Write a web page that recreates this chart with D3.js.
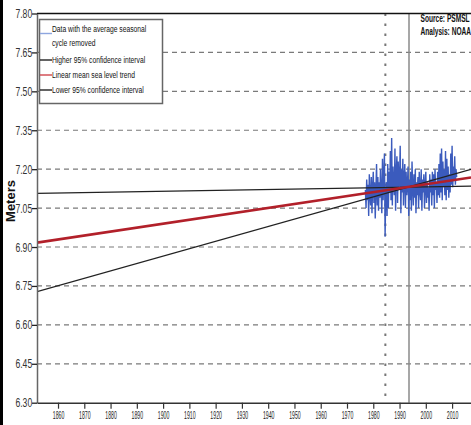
<!DOCTYPE html>
<html><head><meta charset="utf-8">
<script src="https://cdn.jsdelivr.net/npm/d3@7"></script>
<style>body{margin:0;background:#fff;}svg{display:block;}</style>
</head><body>
<svg id="c" width="471" height="425"></svg>
<script>
// ---- data ----
const yTicks = [6.30, 6.45, 6.60, 6.75, 6.90, 7.05, 7.20, 7.35, 7.50, 7.65, 7.80];
const xTicks = [1860, 1870, 1880, 1890, 1900, 1910, 1920, 1930, 1940, 1950, 1960, 1970, 1980, 1990, 2000, 2010];
const dataStartYear = 1977;
const samplesPerYear = 4;
const seaLevel = [
  7.12, 7.05, 7.16, 7.08,
  7.14, 7.02, 7.18, 7.10,
  7.06, 7.17, 7.03, 7.13,
  7.19, 7.07, 7.15, 7.01,
  7.12, 7.22, 7.06, 7.17,
  7.04, 7.15, 7.09, 7.20,
  7.11, 7.03, 7.24, 7.08,
  7.18, 7.26, 6.94, 7.10,
  7.15, 7.02, 7.22, 7.05,
  7.19, 7.11, 7.27, 7.08,
  7.32, 7.06, 7.21, 7.14,
  7.10, 7.28, 7.04, 7.19,
  7.25, 7.07, 7.23, 7.12,
  7.16, 7.29, 7.03, 7.20,
  7.11, 7.24, 7.06, 7.17,
  7.22, 7.05, 7.19, 7.10,
  7.14, 7.21, 7.02, 7.16,
  7.08, 7.19, 7.04, 7.23,
  7.13, 7.06, 7.18, 7.09,
  7.20, 7.03, 7.15, 7.10,
  7.17, 7.05, 7.19, 7.12,
  7.08, 7.20, 7.04, 7.16,
  7.11, 7.18, 7.05, 7.14,
  7.19, 7.07, 7.15, 7.09,
  7.13, 7.04, 7.18, 7.11,
  7.16, 7.06, 7.19, 7.10,
  7.18, 7.05, 7.20, 7.12,
  7.15, 7.07, 7.19, 7.10,
  7.22, 7.09, 7.26, 7.11,
  7.28, 7.08, 7.23, 7.13,
  7.20, 7.10, 7.27, 7.08,
  7.24, 7.12, 7.21, 7.09,
  7.18, 7.11, 7.26, 7.14,
  7.29, 7.13, 7.21, 7.16,
  7.25, 7.14, 7.20, 7.17
];
const lineYears = [1852, 2017.2];
const trendLinear = [6.917, 7.168];
const ciHigher = [7.107, 7.135];
const ciLower = [6.728, 7.199];
const dottedMarkerYear = 1984.6;
const solidMarkerYear = 1993.6;
const legendLabels = [
  ["Data with the average seasonal", "cycle removed"],
  ["Higher 95% confidence interval"],
  ["Linear mean sea level trend"],
  ["Lower 95% confidence interval"]
];
const sourceLines = ["Source: PSMSL", "Analysis: NOAA"];

// ---- drawing ----
const svg = d3.select("#c");
const font = "'Liberation Sans', Arial, sans-serif";
const L = 37, R = 471, T = 13.5, B = 402.7;
const x = d3.scaleLinear().domain([1852, 2017.2]).range([L, R]);
const y = d3.scaleLinear().domain([6.30, 7.80]).range([B, T]);

svg.append("rect").attr("x", 0).attr("y", 0).attr("width", 471).attr("height", 425).attr("fill", "#fff");
svg.append("rect").attr("x", 0).attr("y", 0).attr("width", 3).attr("height", 425).attr("fill", "#000");

// grid
svg.append("g").selectAll("line").data(yTicks.filter(d => d > 6.31 && d < 7.79)).join("line")
  .attr("x1", L).attr("x2", R).attr("y1", d => y(d)).attr("y2", d => y(d))
  .attr("stroke", "#7a7a7a").attr("stroke-width", 1.2).attr("stroke-dasharray", "5,4");

// markers
svg.append("line").attr("x1", x(dottedMarkerYear)).attr("x2", x(dottedMarkerYear)).attr("y1", T).attr("y2", B)
  .attr("stroke", "#777").attr("stroke-width", 2).attr("stroke-dasharray", "2.5,7.5");
svg.append("line").attr("x1", x(solidMarkerYear)).attr("x2", x(solidMarkerYear)).attr("y1", T).attr("y2", B)
  .attr("stroke", "#8a8a8a").attr("stroke-width", 1.5);

// data
svg.append("clipPath").attr("id", "pc").append("rect").attr("x", L).attr("y", T).attr("width", R - L).attr("height", B - T);
const pts = seaLevel.map((v, i) => [dataStartYear + i / samplesPerYear, v]);
svg.append("path").datum(pts)
  .attr("d", d3.line().x(d => x(d[0])).y(d => y(d[1])))
  .attr("fill", "none").attr("stroke", "#3b5bbd").attr("stroke-width", 1.4);

const seg = arr => d3.line().x((d, i) => x(lineYears[i])).y(d => y(d))(arr);
const lg = svg.append("g").attr("clip-path", "url(#pc)");
lg.append("path").attr("d", seg(ciHigher)).attr("stroke", "#222").attr("stroke-width", 1.3).attr("fill", "none");
lg.append("path").attr("d", seg(ciLower)).attr("stroke", "#222").attr("stroke-width", 1.3).attr("fill", "none");
lg.append("path").attr("d", seg(trendLinear)).attr("stroke", "#b2202a").attr("stroke-width", 2.6).attr("fill", "none");

// top border
svg.append("line").attr("x1", L).attr("x2", R).attr("y1", T).attr("y2", T).attr("stroke", "#111").attr("stroke-width", 1.5);

// axes
const ya = svg.append("g").attr("transform", `translate(${L},0)`)
  .call(d3.axisLeft(y).tickValues(yTicks).tickFormat(d3.format(".2f")).tickSize(5).tickSizeOuter(0));
ya.select(".domain").attr("stroke", "#666").attr("stroke-width", 1.5);
ya.selectAll(".tick line").attr("stroke", "#222").attr("stroke-width", 1.3);
ya.selectAll(".tick text").attr("x", -7).attr("transform", "scale(0.69,1)")
  .attr("font-family", font).attr("font-size", 12.5).attr("fill", "#333");

const xa = svg.append("g").attr("transform", `translate(0,${B})`)
  .call(d3.axisBottom(x).tickValues(xTicks).tickFormat(d3.format("d")).tickSize(6).tickSizeOuter(0));
xa.select(".domain").attr("stroke", "#333").attr("stroke-width", 1.5);
xa.selectAll(".tick line").attr("stroke", "#333").attr("stroke-width", 1.2);
xa.selectAll(".tick text").attr("y", 9).attr("transform", "scale(0.52,1)")
  .attr("font-family", font).attr("font-size", 10).attr("fill", "#222");

// y label
svg.append("text").attr("transform", "translate(15,201) rotate(-90)").attr("text-anchor", "middle")
  .attr("font-family", font).attr("font-weight", "bold").attr("font-size", 13)
  .attr("fill", "#111").text("Meters");

// legend
const leg = svg.append("g");
leg.append("rect").attr("x", 39.5).attr("y", 19.5).attr("width", 123).attr("height", 84)
  .attr("fill", "#fff").attr("stroke", "#666").attr("stroke-width", 1.5);
const legColors = ["#8ea6df", "#222", "#d0454c", "#222"];
const legY = [33.5, 60, 75, 90];
legendLabels.forEach((lines, i) => {
  leg.append("line").attr("x1", 40).attr("x2", 52).attr("y1", legY[i]).attr("y2", legY[i])
    .attr("stroke", legColors[i]).attr("stroke-width", 1.4);
  const baseY = i === 0 ? 29 : legY[i];
  lines.forEach((t, j) => {
    leg.append("text").attr("transform", `translate(52,${baseY + j * 13.5}) scale(0.71,1)`).attr("dy", "0.35em")
      .attr("font-family", font).attr("font-size", 9.5).attr("fill", "#111").text(t);
  });
});

// source
sourceLines.forEach((t, i) => {
  svg.append("text").attr("transform", `translate(420.5,${21.5 + i * 13}) scale(0.6,1)`).attr("font-family", font)
    .attr("font-weight", "bold").attr("font-size", 11).attr("fill", "#111").text(t);
});
</script>
</body></html>
